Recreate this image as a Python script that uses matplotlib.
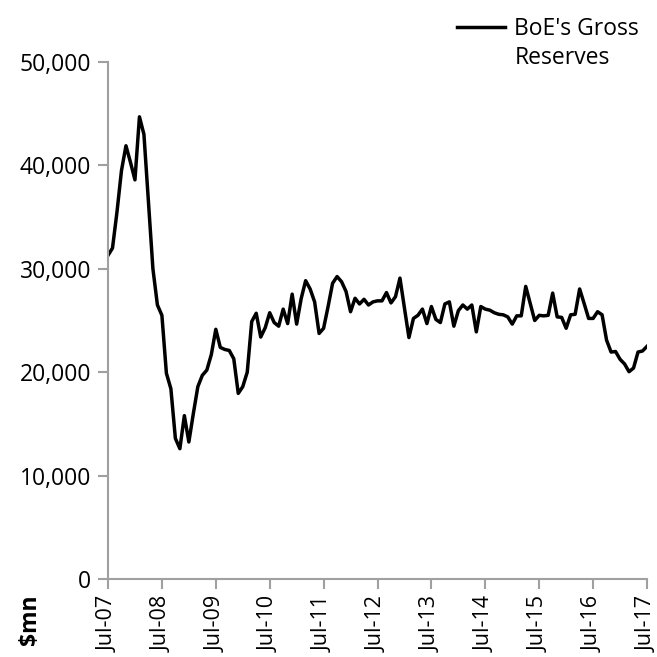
import numpy as np
import matplotlib
matplotlib.use("Agg")
import matplotlib.pyplot as plt
import matplotlib.transforms as mtransforms

plt.rcParams['font.family'] = ['Open Sans', 'DejaVu Sans']

# Monthly BoE gross reserves ($mn), Jul-07 .. Jul-17
reserves = [
    31300, 32000, 35500, 39500, 41900, 40300, 38600, 44700, 43000, 36500,  # Jul-07..Apr-08
    30000, 26500, 25500, 19900, 18400, 13600, 12600, 15800, 13250, 16000,  # May-08..Feb-09
    18600, 19700, 20200, 21700, 24150, 22400, 22200, 22100, 21300, 17950,  # Mar-09..Dec-09
    18600, 20000, 24900, 25700, 23400, 24300, 25750, 24800, 24450, 26100,  # Jan-10..Oct-10
    24700, 27550, 24650, 27100, 28850, 28050, 26800, 23750, 24250, 26350,  # Nov-10..Aug-11
    28600, 29250, 28750, 27800, 25850, 27150, 26600, 27050, 26500, 26800,  # Sep-11..Jun-12
    26900, 26900, 27700, 26700, 27300, 29100, 26200, 23350, 25200, 25500,  # Jul-12..Apr-13
    26100, 24700, 26350, 25100, 24800, 26600, 26800, 24450, 25950, 26500,  # May-13..Feb-14
    26100, 26500, 23900, 26350, 26100, 26000, 25750, 25600, 25550, 25350,  # Mar-14..Dec-14
    24650, 25450, 25450, 28300, 26650, 25000, 25500, 25450, 25500, 27650,  # Jan-15..Oct-15
    25350, 25300, 24250, 25550, 25600, 28050, 26650, 25200, 25200, 25850,  # Nov-15..Aug-16
    25550, 23100, 21950, 22000, 21250, 20800, 20050, 20400, 21950, 22050,  # Sep-16..Jun-17
    22500,                                                                 # Jul-17
]
x_labels = ['Jul-07', 'Jul-08', 'Jul-09', 'Jul-10', 'Jul-11', 'Jul-12',
            'Jul-13', 'Jul-14', 'Jul-15', 'Jul-16', 'Jul-17']
y_ticks = [0, 10000, 20000, 30000, 40000, 50000]

months = np.arange(len(reserves))
grey = '#a0a0a0'
fs = 16.5

fig = plt.figure(figsize=(6.57, 6.57), dpi=100)
ax = fig.add_axes([108/657, 78/657, 539/657, 517/657])

ax.plot(months, reserves, color='black', linewidth=2.5, label="BoE's Gross\nReserves")

ax.set_xlim(0, len(reserves) - 1)
ax.set_ylim(0, 50000)
ax.set_xticks(months[::12])
ax.set_xticklabels(x_labels, rotation=90, fontsize=15.5)
ax.set_yticks(y_ticks)
ax.set_yticklabels([f'{v:,}' for v in y_ticks], fontsize=fs)

for s in ['top', 'right']:
    ax.spines[s].set_visible(False)
for s in ['left', 'bottom']:
    ax.spines[s].set_color(grey)
    ax.spines[s].set_linewidth(1.5)
ax.tick_params(axis='both', direction='out', length=7, width=1.5, color=grey,
               labelcolor='black')
ax.tick_params(axis='x', pad=5)
ax.tick_params(axis='y', pad=5)

fig.text(30/657, 1 - 620/657, '$mn', rotation=90, fontsize=fs, fontweight='bold',
         ha='center', va='center')

leg = ax.legend(loc='upper left', bbox_to_anchor=(457/657, 1 - 17/657),
                bbox_transform=fig.transFigure, frameon=False, fontsize=fs,
                handlelength=2.1, handletextpad=0.4,
                borderpad=0, borderaxespad=0)
plt.setp(leg.get_texts(), linespacing=1.3)
# put the legend line level with the first text line, as in the original
h = leg.get_lines()[0]
h.set_transform(h.get_transform() + mtransforms.Affine2D().translate(0, 18))

fig.savefig('out.png', dpi=100)
